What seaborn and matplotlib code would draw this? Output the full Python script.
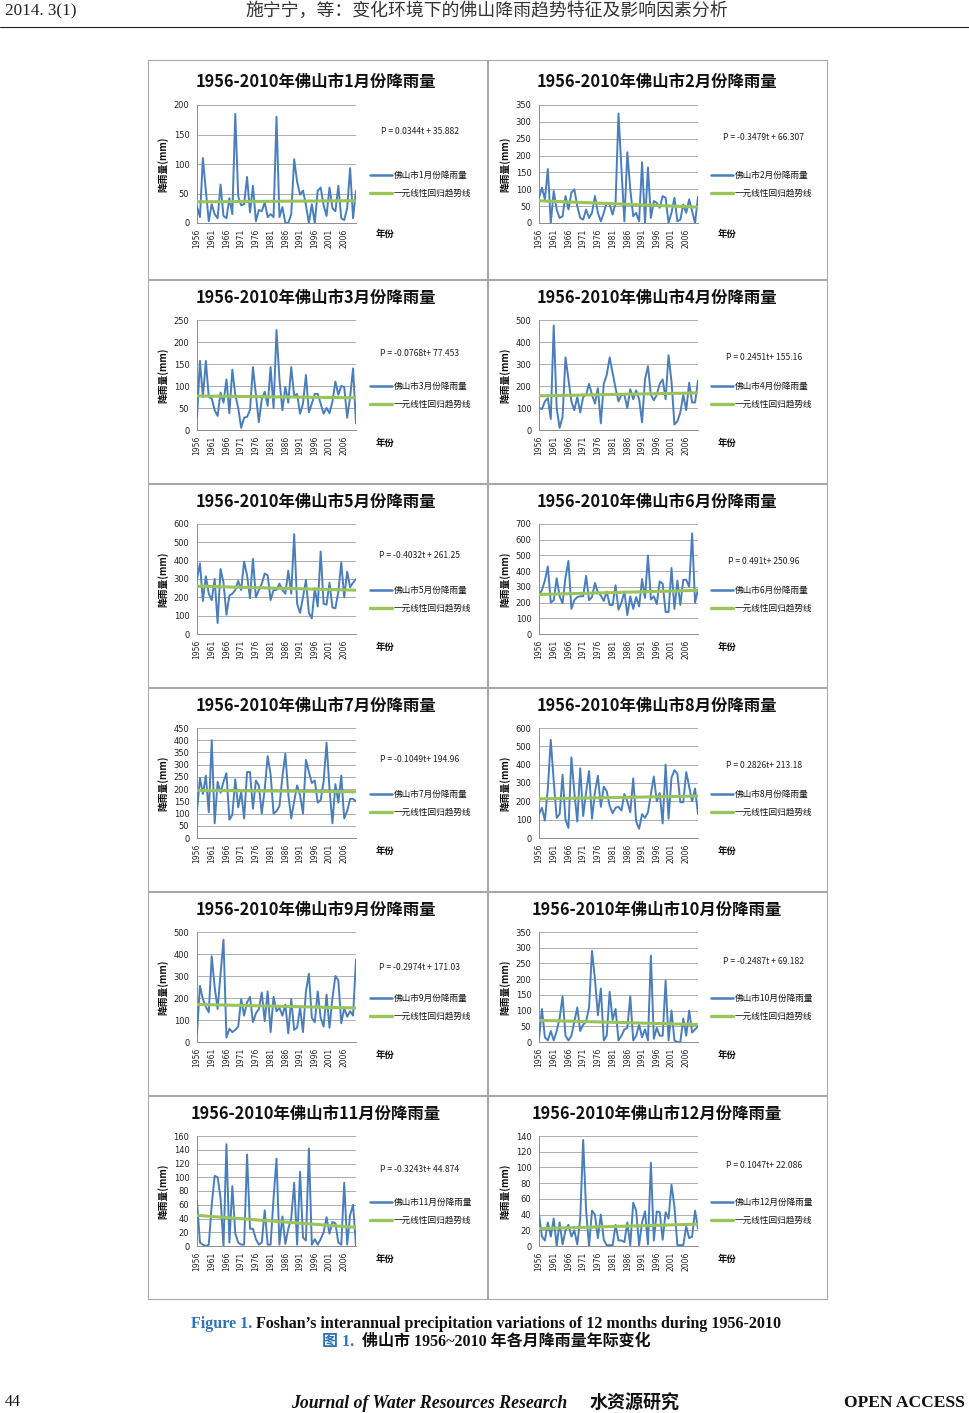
import numpy as np
import pandas as pd
import matplotlib
matplotlib.use("Agg")
import matplotlib.pyplot as plt
import seaborn as sns
from matplotlib.patches import Rectangle
from matplotlib.lines import Line2D

sns.set_theme(style="white")
plt.rcParams['font.family'] = ['Noto Sans CJK SC', 'DejaVu Sans']

# ---------------- data ----------------
years = list(range(1956, 2011))
jan = [28, 10, 110, 55, 3, 32, 15, 8, 65, 12, 8, 42, 15, 185, 45, 30, 32, 78, 18, 63,
       3, 22, 20, 35, 10, 15, 10, 180, 10, 27, 0, 0, 15, 108, 70, 48, 55, 30, 0, 32,
       0, 55, 60, 30, 12, 60, 25, 20, 63, 8, 5, 25, 93, 8, 55]
feb = [75, 105, 70, 160, 0, 95, 40, 15, 20, 80, 40, 90, 100, 50, 15, 10, 40, 15, 30, 80,
       30, 5, 30, 60, 55, 25, 60, 325, 160, 5, 210, 100, 20, 30, 5, 180, 0, 165, 15, 65,
       60, 45, 80, 75, 0, 30, 75, 5, 10, 55, 30, 70, 35, 0, 78]
mar = [28, 157, 75, 157, 75, 72, 45, 32, 85, 62, 115, 38, 137, 80, 50, 5, 28, 30, 45, 143,
       80, 18, 70, 87, 55, 143, 50, 227, 115, 45, 98, 62, 143, 78, 82, 37, 60, 125, 40, 60,
       82, 82, 60, 37, 50, 38, 65, 110, 80, 100, 98, 28, 75, 140, 15]
apr = [100, 95, 130, 145, 50, 475, 100, 10, 60, 330, 230, 130, 90, 150, 80, 150, 160, 210, 160, 120,
       190, 30, 210, 250, 330, 260, 190, 130, 160, 160, 100, 185, 140, 180, 140, 35, 230, 290, 160, 135,
       160, 210, 230, 140, 340, 220, 25, 40, 80, 160, 90, 215, 125, 125, 225]
may = [300, 385, 180, 315, 220, 185, 300, 60, 355, 280, 105, 210, 220, 240, 290, 240, 395, 320, 195, 410,
       200, 240, 275, 330, 320, 185, 240, 240, 275, 240, 220, 345, 220, 545, 165, 115, 200, 295, 115, 85,
       250, 150, 450, 165, 160, 280, 145, 140, 230, 390, 200, 340, 255, 280, 300]
jun = [245, 280, 340, 430, 200, 215, 355, 240, 195, 360, 465, 160, 215, 235, 240, 240, 370, 215, 235, 325,
       265, 245, 210, 270, 185, 185, 310, 155, 200, 270, 120, 240, 160, 235, 175, 350, 230, 500, 220, 240,
       190, 335, 320, 140, 140, 420, 160, 340, 185, 345, 345, 300, 640, 200, 285]
jul = [110, 245, 180, 255, 105, 400, 60, 230, 185, 230, 265, 75, 95, 240, 125, 190, 80, 270, 270, 120,
       235, 215, 100, 200, 335, 260, 100, 110, 130, 250, 345, 180, 80, 150, 215, 175, 100, 320, 270, 225,
       235, 145, 155, 230, 390, 200, 60, 220, 145, 255, 80, 110, 160, 160, 150]
aug = [130, 165, 95, 270, 535, 310, 110, 130, 345, 100, 55, 440, 250, 90, 380, 120, 250, 365, 105, 250,
       340, 170, 280, 255, 175, 135, 165, 170, 150, 240, 200, 140, 325, 90, 50, 130, 110, 140, 240, 335,
       200, 245, 80, 400, 105, 330, 370, 350, 195, 195, 360, 280, 200, 270, 130]
sep = [40, 255, 195, 160, 135, 390, 250, 150, 310, 465, 20, 60, 45, 55, 70, 195, 120, 180, 205, 90,
       130, 150, 225, 95, 230, 45, 205, 140, 155, 120, 170, 40, 195, 55, 65, 155, 45, 230, 310, 110,
       90, 230, 110, 70, 215, 65, 200, 300, 280, 85, 155, 115, 140, 120, 375]
oct_ = [10, 105, 15, 5, 35, 5, 35, 75, 145, 20, 5, 20, 65, 110, 35, 55, 65, 110, 290, 200,
        85, 170, 5, 20, 160, 70, 105, 5, 20, 40, 45, 145, 5, 20, 55, 15, 40, 5, 275, 10,
        45, 20, 20, 195, 5, 100, 5, 0, 0, 75, 20, 100, 30, 40, 50]
nov = [65, 5, 2, 0, 2, 60, 102, 100, 70, 0, 148, 5, 87, 18, 5, 2, 2, 133, 25, 25,
       10, 2, 5, 52, 2, 2, 70, 127, 2, 43, 3, 25, 40, 92, 2, 108, 12, 8, 142, 2,
       10, 2, 10, 20, 42, 18, 35, 33, 5, 2, 92, 2, 45, 60, 0]
dec = [40, 12, 7, 30, 12, 35, 0, 30, 2, 20, 27, 12, 20, 2, 35, 135, 45, 0, 45, 40,
       10, 40, 8, 1, 1, 1, 27, 7, 7, 5, 30, 1, 55, 45, 1, 30, 44, 2, 106, 7,
       44, 43, 8, 43, 35, 78, 50, 1, 1, 1, 25, 10, 12, 45, 22]
monthly = [jan, feb, mar, apr, may, jun, jul, aug, sep, oct_, nov, dec]
month_labels = ['1', '2', '3', '4', '5', '6', '7', '8', '9', '10', '11', '12']
trend_slope = [0.0344, -0.3479, -0.0768, 0.2451, -0.4032, 0.491,
               -0.1049, 0.2826, -0.2974, -0.2487, -0.3243, 0.1047]
trend_intercept = [35.882, 66.307, 77.453, 155.16, 261.25, 250.96,
                   194.96, 213.18, 171.03, 69.182, 44.874, 22.086]
eq_labels = ['P = 0.0344t + 35.882', 'P = -0.3479t + 66.307', 'P = -0.0768t+ 77.453',
             'P = 0.2451t+ 155.16', 'P = -0.4032t + 261.25', 'P = 0.491t+ 250.96',
             'P = -0.1049t+ 194.96', 'P = 0.2826t+ 213.18', 'P = -0.2974t + 171.03',
             'P = -0.2487t + 69.182', 'P = -0.3243t+ 44.874', 'P = 0.1047t+ 22.086']
y_max = [200, 350, 250, 500, 600, 700, 450, 600, 500, 350, 160, 140]
y_step = [50, 50, 50, 100, 100, 100, 50, 100, 100, 50, 20, 20]

# ---------------- layout ----------------
W, H = 970, 1413
fig = plt.figure(figsize=(W / 100, H / 100), dpi=100)
fig.patch.set_facecolor('white')

def fx(x):
    return x / W

def fy(y):
    return 1 - y / H

BLUE = '#4A7EBB'
GREEN = '#99C45A'
row_top = [60, 280, 484, 688, 892, 1096]
row_bot = [279, 483, 687, 891, 1095, 1299]
col_left = [148, 488]
col_right = [487, 827]
ax_left = [197, 539]
ax_right = [356, 698]
title_cx = [316, 657]
eq_cx = [420, 764]
eq_dy = [72, 77, 74, 78, 72, 77, 71, 78, 75, 69, 74, 69]
leg_x = [370, 711]
ylab_x = [163, 505]
yr_x = [376, 718]

for m in range(12):
    r, c = divmod(m, 2)
    top = row_top[r]
    if r == 0:
        a_top, a_bot, t_y, l_y, yr_y = 105, 223, 82, 175, 234
    else:
        a_top, a_bot, t_y, l_y, yr_y = top + 40, top + 150, top + 18, top + 106, top + 163

    # panel frame
    fig.add_artist(Rectangle((fx(col_left[c]), fy(row_bot[r])),
                             (col_right[c] - col_left[c]) / W, (row_bot[r] - top) / H,
                             transform=fig.transFigure, fill=False,
                             edgecolor='#a8a8a8', lw=0.8))

    ax = fig.add_axes([fx(ax_left[c]), fy(a_bot), (ax_right[c] - ax_left[c]) / W, (a_bot - a_top) / H])
    ax.set_facecolor('none')
    df = pd.DataFrame({'year': years, 'rain': monthly[m]})
    t = np.arange(1, len(years) + 1)
    df['trend'] = trend_slope[m] * t + trend_intercept[m]
    sns.lineplot(data=df, x='year', y='rain', ax=ax, color=BLUE, lw=1.4, legend=False, zorder=3)
    sns.lineplot(data=df, x='year', y='trend', ax=ax, color=GREEN, lw=2.2, legend=False, zorder=4)

    ax.set_xlim(1956, 2010)
    ax.set_ylim(0, y_max[m])
    ax.set_yticks(np.arange(0, y_max[m] + 1, y_step[m]))
    ax.set_xticks(years[::5])
    ax.set_xticklabels([str(y) for y in years[::5]], rotation=90, fontsize=5.5,
                       family=['DejaVu Sans'])
    for lab in ax.get_yticklabels():
        lab.set_fontsize(6.0)
        lab.set_family(['DejaVu Sans'])
    ax.tick_params(axis='y', length=2.5, width=0.6, color='#808080', pad=3, labelcolor='#222222')
    ax.tick_params(axis='x', length=2, width=0.6, color='#808080', pad=2, labelcolor='#222222')
    ax.set_xlabel('')
    ax.set_ylabel('')
    ax.grid(axis='y', color='#a0a0a0', lw=0.6)
    ax.grid(axis='x', visible=False)
    for s in ['top', 'right']:
        ax.spines[s].set_visible(False)
    for s in ['left', 'bottom']:
        ax.spines[s].set_color('#8c8c8c')
        ax.spines[s].set_linewidth(0.7)

    # title
    fig.text(fx(title_cx[c]), fy(t_y), f'1956-2010年佛山市{month_labels[m]}月份降雨量',
             ha='center', va='center', fontsize=11.8, fontweight='bold', color='#111111')
    # y label
    fig.text(fx(ylab_x[c]), fy((a_top + a_bot) / 2), '降雨量(mm)', rotation=90,
             ha='center', va='center', fontsize=7, fontweight='bold', color='#111111')
    # x label
    fig.text(fx(yr_x[c]), fy(yr_y), '年份', ha='left', va='center',
             fontsize=6.8, fontweight='bold', color='#111111')
    # equation
    fig.text(fx(eq_cx[c]), fy(top + eq_dy[m]), eq_labels[m], ha='center', va='center',
             fontsize=6.2, color='#222222')
    # legend
    for k, (col, lw, lab) in enumerate([(BLUE, 1.8, f'佛山市{month_labels[m]}月份降雨量'),
                                        (GREEN, 2.4, '一元线性回归趋势线')]):
        yy = l_y + 18 * k
        fig.add_artist(Line2D([fx(leg_x[c]), fx(leg_x[c] + 22)], [fy(yy), fy(yy)],
                              transform=fig.transFigure, color=col, lw=lw))
        fig.text(fx(leg_x[c] + 24), fy(yy), lab, ha='left', va='center',
                 fontsize=6.2, color='#111111')

# ---------------- page header / footer ----------------
fig.text(fx(5), fy(11), '2014. 3(1)', ha='left', va='center', fontsize=12.3,
         family=['Liberation Serif'], color='#222222')
fig.text(fx(487), fy(11), '施宁宁，等：变化环境下的佛山降雨趋势特征及影响因素分析',
         ha='center', va='center', fontsize=12.9, color='#333333')
fig.add_artist(Line2D([0, 1], [fy(27), fy(27)], transform=fig.transFigure, color='#222222', lw=0.8))

cap_font = ['Liberation Serif', 'Noto Sans CJK SC']
CAPBLUE = '#2E74B5'
renderer = fig.canvas.get_renderer()

def two_part(x, y, first, rest, size):
    t1 = fig.text(fx(x), fy(y), first, ha='left', va='center', fontsize=size,
                  fontweight='bold', family=cap_font, color=CAPBLUE)
    bb = t1.get_window_extent(renderer=renderer)
    x2 = bb.x1 + size * 0.3
    fig.text(x2 / W, fy(y), rest, ha='left', va='center', fontsize=size,
             fontweight='bold', family=cap_font, color='#111111')

two_part(191, 1324, 'Figure 1.',
         'Foshan’s interannual precipitation variations of 12 months during 1956-2010', 11.5)
two_part(322, 1342, '图 1.', ' 佛山市 1956~2010 年各月降雨量年际变化', 11.5)

fig.text(fx(5), fy(1402), '44', ha='left', va='center', fontsize=11.5,
         family=['Liberation Serif'], color='#111111')
fig.text(fx(291), fy(1403), 'Journal of Water Resources Research', ha='left', va='center',
         fontsize=12.8, fontweight='bold', style='italic', family=['Liberation Serif'], color='#111111')
fig.text(fx(590), fy(1403), '水资源研究', ha='left', va='center', fontsize=13,
         fontweight='bold', color='#111111')
fig.text(fx(965), fy(1403), 'OPEN ACCESS', ha='right', va='center', fontsize=12.6,
         fontweight='bold', family=['Liberation Serif'], color='#111111')

fig.savefig('out.png', dpi=100, facecolor='white')
